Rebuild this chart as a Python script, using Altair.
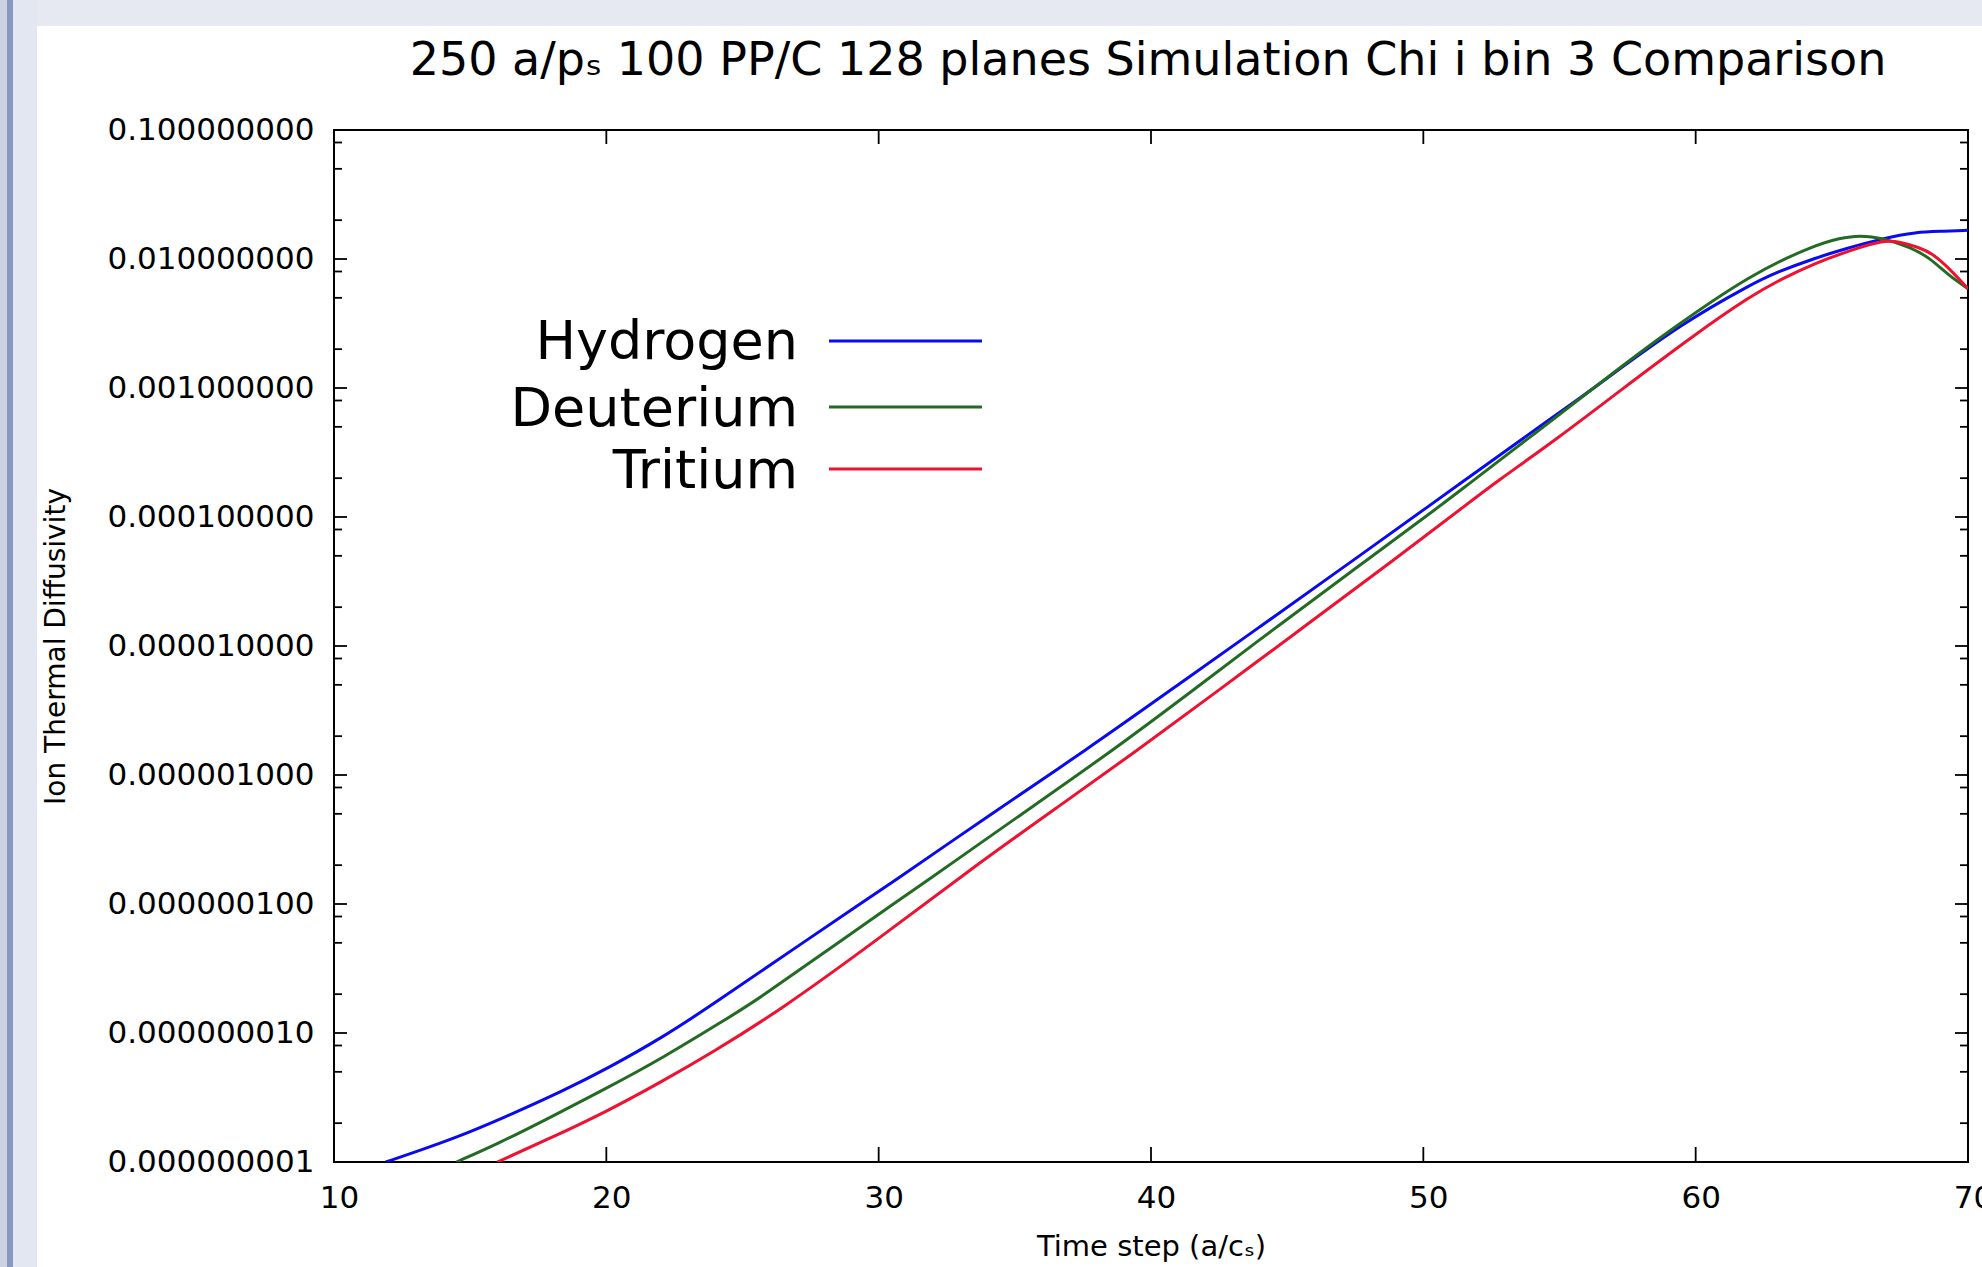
import altair as alt
import pandas as pd

# ---------------- data ----------------
series_names = ["Hydrogen", "Deuterium", "Tritium"]
series_colors = ["#0a0af0", "#236b23", "#f01030"]

h_time = [11.9, 13.0, 14.5, 16.2, 18.4, 20.0, 22.1, 23.9, 27.0, 30.8, 34.0, 37.6, 41.0,
          44.0, 47.0, 50.5, 51.5, 53.0, 56.0, 57.1, 59.5, 62.0, 63.0, 64.4, 65.5, 66.9,
          68.1, 69.0, 70.0]
h_chi = [1.0e-9, 1.20e-9, 1.55e-9, 2.19e-9, 3.55e-9, 5.25e-9, 9.33e-9, 1.66e-8, 4.68e-8,
         1.62e-7, 4.79e-7, 1.55e-6, 5.01e-6, 1.41e-5, 3.98e-5, 1.35e-4, 1.91e-4, 3.24e-4,
         9.12e-4, 1.35e-3, 3.16e-3, 6.31e-3, 7.94e-3, 1.02e-2, 1.20e-2, 1.45e-2, 1.62e-2,
         1.64e-2, 1.67e-2]

d_time = [14.5, 16.0, 17.8, 20.0, 22.1, 24.5, 25.5, 28.5, 31.9, 35.0, 38.6, 41.5, 44.5,
          47.5, 50.9, 51.5, 54.0, 57.1, 59.0, 62.0, 64.4, 65.3, 66.0, 66.9, 67.9, 68.6,
          69.3, 70.0]
d_chi = [1.0e-9, 1.38e-9, 2.14e-9, 3.72e-9, 6.46e-9, 1.32e-8, 1.78e-8, 5.01e-8, 1.58e-7,
         4.57e-7, 1.55e-6, 4.47e-6, 1.35e-5, 3.98e-5, 1.35e-4, 1.70e-4, 4.27e-4, 1.38e-3,
         2.75e-3, 7.59e-3, 1.29e-2, 1.45e-2, 1.53e-2, 1.45e-2, 1.23e-2, 1.02e-2, 7.41e-3,
         5.89e-3]

t_time = [16.0, 17.8, 20.0, 22.1, 23.9, 26.4, 30.0, 33.5, 36.5, 39.5, 42.5, 45.5, 48.5,
          51.8, 52.6, 55.0, 57.1, 60.0, 62.0, 63.1, 64.4, 65.7, 66.9, 67.5, 68.2, 68.7,
          69.3, 70.0]
t_chi = [1.0e-9, 1.48e-9, 2.45e-9, 4.27e-9, 7.08e-9, 1.51e-8, 5.37e-8, 1.95e-7, 5.50e-7,
         1.55e-6, 4.57e-6, 1.35e-5, 3.98e-5, 1.35e-4, 1.82e-4, 4.17e-4, 9.12e-4, 2.63e-3,
         5.13e-3, 6.92e-3, 9.33e-3, 1.17e-2, 1.40e-2, 1.36e-2, 1.23e-2, 1.10e-2, 8.51e-3,
         5.89e-3]

x_tick_values = [10, 20, 30, 40, 50, 60, 70]
y_tick_values = [1e-9, 1e-8, 1e-7, 1e-6, 1e-5, 1e-4, 1e-3, 1e-2, 1e-1]
y_minor_values = [2e-9, 5e-9, 8e-9, 2e-8, 5e-8, 8e-8, 2e-7, 5e-7, 8e-7, 2e-6, 5e-6, 8e-6,
                  2e-5, 5e-5, 8e-5, 2e-4, 5e-4, 8e-4, 2e-3, 5e-3, 8e-3, 2e-2, 5e-2, 8e-2]

title_text = "250 a/p\u209b 100 PP/C 128 planes Simulation Chi i bin 3 Comparison"
x_title = "Time step (a/c\u209b)"
y_title = "Ion Thermal Diffusivity"

# ---------------- layout ----------------
W, H = 1634, 1032
FONT = "DejaVu Sans"

xscale = alt.Scale(domain=[10, 70], nice=False, zero=False)
yscale = alt.Scale(type="log", domain=[1e-9, 1e-1], nice=False)

x_axis = alt.Axis(values=x_tick_values, format="d", ticks=False, domain=False, grid=False,
                  labelFont=FONT, labelFontSize=31, labelColor="black", labelPadding=21,
                  labelFlush=False, labelOverlap=False, labelOffset=5, labelLimit=0,
                  title=x_title, titleFont=FONT, titleFontSize=29, titleFontWeight="normal",
                  titleColor="black", titleX=W / 2, titleY=84, titleAlign="center",
                  titleBaseline="middle")
y_axis = alt.Axis(values=y_tick_values, format=".9f", ticks=False, domain=False, grid=False,
                  labelFont=FONT, labelFontSize=31, labelColor="black", labelPadding=20,
                  labelFlush=False, labelOverlap=False, labelLimit=0,
                  title=y_title, titleFont=FONT, titleFontSize=28, titleFontWeight="normal",
                  titleColor="black", titleX=-278, titleY=H / 2, titleAlign="center",
                  titleBaseline="middle")

X = alt.X("time:Q", scale=xscale, axis=x_axis)
Y = alt.Y("chi:Q", scale=yscale, axis=y_axis)

layers = []

# page frame decoration (outside the plot area)
deco = pd.DataFrame({"k": [0]})


def band(x1, x2, y1, y2, color):
    return alt.Chart(deco).mark_rect(color=color).encode(
        x=alt.value(x1), x2=alt.value(x2), y=alt.value(y1), y2=alt.value(y2))


layers += [
    band(-334, 1648, -130, -104, "#e6e9f2"),
    band(-334, -297, -130, 1137, "#e3e7f1"),
    band(-334, -327, -130, 1137, "#ccd2e2"),
    band(-327, -321, -130, 1137, "#8a97be"),
]

# inward ticks (gnuplot style, mirrored)
xt = pd.DataFrame({"time": x_tick_values})
yt = pd.DataFrame({"chi": y_tick_values})
ym = pd.DataFrame({"chi": y_minor_values})
tick_style = dict(color="black", strokeWidth=1.8)
layers += [
    alt.Chart(xt).mark_rule(**tick_style).encode(x=X, y=alt.value(H), y2=alt.value(H - 15)),
    alt.Chart(xt).mark_rule(**tick_style).encode(x=X, y=alt.value(0), y2=alt.value(14)),
    alt.Chart(yt).mark_rule(**tick_style).encode(y=Y, x=alt.value(0), x2=alt.value(13)),
    alt.Chart(yt).mark_rule(**tick_style).encode(y=Y, x=alt.value(W), x2=alt.value(W - 13)),
    alt.Chart(ym).mark_rule(**tick_style).encode(y=Y, x=alt.value(0), x2=alt.value(8)),
    alt.Chart(ym).mark_rule(**tick_style).encode(y=Y, x=alt.value(W), x2=alt.value(W - 8)),
]

# data series (drawn in order: Hydrogen, Deuterium, Tritium)
for ts, vs, color in [(h_time, h_chi, series_colors[0]),
                      (d_time, d_chi, series_colors[1]),
                      (t_time, t_chi, series_colors[2])]:
    d = pd.DataFrame({"time": ts, "chi": vs})
    layers.append(alt.Chart(d).mark_line(color=color, strokeWidth=3, clip=True,
                                         interpolate="basis").encode(x=X, y=Y))

# key (legend) inside the plot
legend_baselines = [229, 296, 358]
legend_lines = [211, 277, 339]
for i, (name, color) in enumerate(zip(series_names, series_colors)):
    d = pd.DataFrame({"label": [name]})
    layers.append(alt.Chart(d).mark_text(align="right", baseline="alphabetic", font=FONT,
                                         fontSize=54, color="black").encode(
        text="label:N", x=alt.value(464), y=alt.value(legend_baselines[i])))
    layers.append(alt.Chart(d).mark_rule(color=color, strokeWidth=3).encode(
        x=alt.value(495), x2=alt.value(648), y=alt.value(legend_lines[i])))

# chart title
layers.append(alt.Chart(pd.DataFrame({"label": [title_text]})).mark_text(
    align="center", baseline="alphabetic", font=FONT, fontSize=46, color="black").encode(
    text="label:N", x=alt.value(814), y=alt.value(-55)))

chart = alt.layer(*layers).properties(
    width=W, height=H,
    autosize=alt.AutoSizeParams(type="none"),
    padding={"left": 334, "top": 130, "right": 14, "bottom": 105},
    background="white",
).configure_view(stroke="black", strokeWidth=2, fill="white")

chart.save("out.html", embed_options={"renderer": "svg", "actions": False})
